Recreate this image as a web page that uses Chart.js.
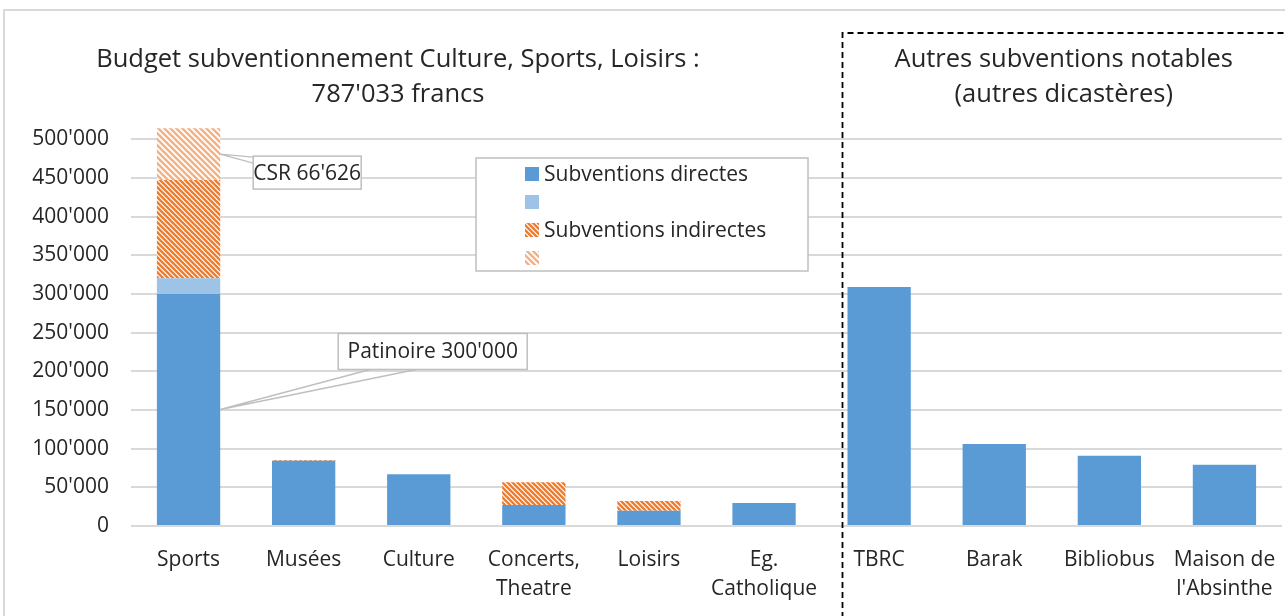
<!DOCTYPE html>
<html>
<head>
<meta charset="utf-8">
<script src="https://cdn.jsdelivr.net/npm/chart.js@4/dist/chart.umd.min.js"></script>
<style>
  html, body { margin: 0; padding: 0; background: #ffffff; }
  #wrap { width: 1285px; height: 616px; }
</style>
</head>
<body>
<div id="wrap"><canvas id="c" width="1285" height="616"></canvas></div>
<script>
// ---- data ----
const categories = [["Sports"], ["Musées"], ["Culture"], ["Concerts,", "Theatre"], ["Loisirs"], ["Eg.", "Catholique"], ["TBRC"], ["Barak"], ["Bibliobus"], ["Maison de", "l'Absinthe"]];
const directes      = [300000, 84400, 66800, 27100, 19800, 29700, 309000, 106000, 90800, 79200];
const directesExtra = [20400, 0, 0, 0, 0, 0, 0, 0, 0, 0];
const indirectes    = [127000, 1000, 0, 29300, 12500, 0, 0, 0, 0, 0];
const indirectesCSR = [66626, 0, 0, 0, 0, 0, 0, 0, 0, 0];
const seriesLabels  = ["Subventions directes", "", "Subventions indirectes", ""];
const yTicks        = [0, 50000, 100000, 150000, 200000, 250000, 300000, 350000, 400000, 450000, 500000];
const titleLeft     = ["Budget subventionnement Culture, Sports, Loisirs :", "787'033 francs"];
const titleRight    = ["Autres subventions notables", "(autres dicastères)"];
const calloutPatinoire = "Patinoire";
const calloutCSR       = "CSR";

const FONT = "'Open Sans', 'Noto Sans', sans-serif";
const TEXT = '#262626';

function fmt(v) {
  return String(Math.round(v)).replace(/\B(?=(\d{3})+(?!\d))/g, "'");
}

function hatch(color, period, lw) {
  const cv = document.createElement('canvas');
  cv.width = period; cv.height = period;
  const g = cv.getContext('2d');
  g.fillStyle = '#ffffff';
  g.fillRect(0, 0, period, period);
  g.strokeStyle = color;
  g.lineWidth = lw;
  g.lineCap = 'square';
  g.beginPath();
  for (const k of [-period, 0, period]) {
    g.moveTo(k, 0);
    g.lineTo(k + period, period);
  }
  g.stroke();
  return g.createPattern(cv, 'repeat');
}

const ctx = document.getElementById('c').getContext('2d');
const darkHatch = hatch('#ED7D31', 5, 2.4);
const lightHatch = hatch('#F4B183', 6, 2.4);
const fills = ['#5B9BD5', '#9DC3E6', darkHatch, lightHatch];

const decorPlugin = {
  id: 'decor',
  beforeDraw(chart) {
    const c = chart.ctx;
    c.save();
    c.fillStyle = '#ffffff';
    c.fillRect(0, 0, chart.width, chart.height);
    c.strokeStyle = '#d9d9d9';
    c.lineWidth = 2;
    c.strokeRect(4, 10, chart.width + 20, chart.height + 20);
    c.restore();
  },
  afterDatasetsDraw(chart) {
    const c = chart.ctx;
    const xs = chart.scales.x;
    const area = chart.chartArea;
    c.save();

    // dashed separator box
    const sepX = Math.round(xs.getPixelForValue(5.5) + 20) + 0.5;
    c.strokeStyle = '#000000';
    c.lineWidth = 1.8;
    c.setLineDash([6, 4]);
    c.beginPath();
    c.moveTo(sepX, chart.height + 2);
    c.lineTo(sepX, 33);
    c.lineTo(chart.width + 2, 33);
    c.stroke();
    c.setLineDash([]);

    // titles
    c.fillStyle = TEXT;
    c.font = '25.5px ' + FONT;
    c.textAlign = 'center';
    c.textBaseline = 'middle';
    const leftCx = 398;
    c.fillText(titleLeft[0], leftCx, 60);
    c.fillText(titleLeft[1], leftCx, 95);
    const rightCx = (sepX + chart.width) / 2;
    c.fillText(titleRight[0], rightCx, 60);
    c.fillText(titleRight[1], rightCx, 95);

    // legend box
    const lx = area.left + 345, ly = area.top + 42, lw = 332, lh = 113;
    c.fillStyle = '#ffffff';
    c.fillRect(lx, ly, lw, lh);
    c.strokeStyle = '#bfbfbf';
    c.lineWidth = 1.5;
    c.strokeRect(lx, ly, lw, lh);
    c.font = '21px ' + FONT;
    c.textAlign = 'left';
    chart.data.datasets.forEach((ds, i) => {
      const cy = ly + 16 + i * 28;
      c.fillStyle = ds.backgroundColor;
      c.fillRect(lx + 49, cy - 7, 14, 14);
      c.fillStyle = TEXT;
      c.fillText(ds.label, lx + 68, cy + 1);
    });

    // callouts
    function callout(dsIndex, idx, text, dx, dy, bw, bh, wedge) {
      const el = chart.getDatasetMeta(dsIndex).data[idx];
      const px = el.x + el.width / 2;
      const py = (el.y + el.base) / 2;
      const bx = px + dx, by = py + dy;
      c.strokeStyle = '#bfbfbf';
      c.lineWidth = 1.5;
      c.fillStyle = '#ffffff';
      c.beginPath();
      c.moveTo(px, py);
      if (wedge === 'bottom') {
        c.lineTo(bx + 32, by + bh);
        c.moveTo(px, py);
        c.lineTo(bx + 78, by + bh);
      } else {
        c.lineTo(bx, by + 1);
        c.moveTo(px, py);
        c.lineTo(bx, by + 7);
      }
      c.stroke();
      c.fillRect(bx, by, bw, bh);
      c.strokeRect(bx, by, bw, bh);
      c.fillStyle = TEXT;
      c.textAlign = 'center';
      c.textBaseline = 'middle';
      c.font = '21px ' + FONT;
      c.fillText(text, bx + bw / 2, by + bh / 2 + 1);
    }
    callout(0, 0, calloutPatinoire + ' ' + fmt(directes[0]), 118, -76, 189, 36, 'bottom');
    callout(3, 0, calloutCSR + ' ' + fmt(indirectesCSR[0]), 33, 2, 108, 33, 'left');

    c.restore();
  }
};

new Chart(ctx, {
  type: 'bar',
  data: {
    labels: categories,
    datasets: [directes, directesExtra, indirectes, indirectesCSR].map((d, i) => ({
      label: seriesLabels[i],
      data: d,
      backgroundColor: fills[i],
      borderWidth: 0,
      barPercentage: 0.55,
      categoryPercentage: 1.0
    }))
  },
  options: {
    responsive: false,
    animation: false,
    devicePixelRatio: 1,
    layout: { padding: { top: 116, right: 3, left: 0, bottom: 0 } },
    plugins: {
      legend: { display: false },
      tooltip: { enabled: false },
      title: { display: false }
    },
    scales: {
      x: {
        stacked: true,
        grid: { display: false, drawTicks: false },
        border: { display: false },
        ticks: {
          color: TEXT,
          font: { family: FONT, size: 21, lineHeight: 1.38 },
          padding: 20,
          maxRotation: 0,
          autoSkip: false
        },
        afterFit(scale) {
          scale.height = 90;
          scale.paddingLeft = 0;
          scale.paddingRight = 0;
        }
      },
      y: {
        stacked: true,
        min: 0,
        max: 530000,
        grid: { color: '#d9d9d9', lineWidth: 2, drawTicks: false },
        border: { display: false },
        ticks: {
          stepSize: 50000,
          color: TEXT,
          font: { family: FONT, size: 21 },
          padding: 22,
          callback: (v) => fmt(v)
        },
        afterBuildTicks(scale) {
          scale.ticks = yTicks.map(v => ({ value: v }));
        },
        afterFit(scale) { scale.width = 131; }
      }
    }
  },
  plugins: [decorPlugin]
});
</script>
</body>
</html>
